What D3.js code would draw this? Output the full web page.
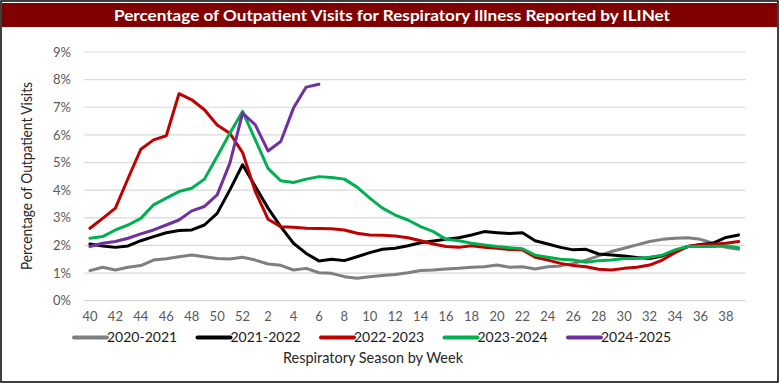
<!DOCTYPE html>
<html lang="en">
<head>
  <meta charset="utf-8">
  <title>ILINet Outpatient Visits</title>
  <script src="https://d3js.org/d3.v7.min.js"></script>
  <style>
    body { margin: 0; background: #fff; }
    text { font-family: Lato, 'Open Sans', sans-serif; }
  </style>
</head>
<body>
<svg width="780" height="384"></svg>
<script>
// season weeks (category axis)
var weeks = [40,41,42,43,44,45,46,47,48,49,50,51,52,
  1,2,3,4,5,6,7,8,9,10,11,12,13,14,15,16,17,18,19,20,21,22,23,24,25,26,27,28,29,30,31,32,33,34,35,36,37,38,39];

var seasons = ['2020-2021', '2021-2022', '2022-2023', '2023-2024', '2024-2025'];
var colors = ['#7f7f7f', '#000000', '#c00000', '#00b050', '#7030a0'];

// percent of visits
var s2020 = [1.09,1.21,1.11,1.21,1.27,1.47,1.52,1.59,1.65,1.59,1.53,1.51,1.57,1.47,1.33,1.28,
  1.11,1.17,1.01,0.99,0.87,0.81,0.87,0.91,0.95,1.01,1.09,1.11,1.15,1.17,1.21,1.23,1.29,1.21,
  1.23,1.15,1.23,1.26,1.35,1.47,1.62,1.78,1.90,2.02,2.14,2.22,2.26,2.28,2.22,2.08,1.93,1.86];
var s2021 = [2.05,1.98,1.93,1.98,2.17,2.32,2.46,2.54,2.56,2.74,3.16,4.01,4.92,4.13,3.35,2.68,
  2.08,1.71,1.44,1.50,1.45,1.59,1.74,1.86,1.90,1.99,2.10,2.16,2.22,2.28,2.38,2.50,2.46,2.43,
  2.46,2.17,2.05,1.93,1.84,1.86,1.69,1.65,1.62,1.56,1.53,1.62,1.81,1.96,2.03,2.08,2.29,2.38];
var s2022 = [2.62,2.98,3.35,4.43,5.48,5.82,5.97,7.49,7.27,6.91,6.36,6.06,5.36,3.95,2.95,2.68,
  2.66,2.62,2.61,2.60,2.56,2.44,2.38,2.37,2.34,2.28,2.17,2.05,1.96,1.93,1.99,1.93,1.90,1.85,
  1.84,1.57,1.47,1.35,1.27,1.23,1.14,1.11,1.17,1.21,1.29,1.47,1.74,1.96,2.02,2.04,2.08,2.14];
var s2023 = [2.26,2.32,2.56,2.74,2.98,3.47,3.71,3.95,4.07,4.40,5.22,6.06,6.85,5.82,4.79,4.34,
  4.28,4.40,4.49,4.46,4.40,4.11,3.71,3.35,3.10,2.92,2.68,2.50,2.22,2.17,2.08,2.02,1.96,1.92,
  1.88,1.65,1.57,1.50,1.47,1.39,1.45,1.47,1.53,1.53,1.57,1.65,1.84,1.96,1.96,1.96,1.98,1.92];
var s2024 = [1.96,2.08,2.14,2.26,2.42,2.56,2.74,2.92,3.25,3.41,3.83,4.98,6.79,6.36,5.42,5.76,6.97,7.73,7.83];

var yTicks = [0,1,2,3,4,5,6,7,8,9];

var series = [s2020, s2021, s2022, s2023, s2024];

var svg = d3.select('svg');

// frame + title bar
svg.append('rect').attr('x', 1).attr('y', 1).attr('width', 777).attr('height', 381)
  .attr('fill', '#fff').attr('stroke', '#000').attr('stroke-width', 1.5);
svg.append('rect').attr('x', 2).attr('y', 3).attr('width', 775).attr('height', 24)
  .attr('fill', '#800000');
svg.append('text')
  .attr('x', 392).attr('y', 21)
  .attr('text-anchor', 'middle')
  .attr('fill', '#fff')
  .style('font-size', '16px').style('font-weight', 'bold')
  .attr('textLength', 556).attr('lengthAdjust', 'spacingAndGlyphs')
  .text('Percentage of Outpatient Visits for Respiratory Illness Reported by ILINet');

var x = d3.scaleBand().domain(d3.range(weeks.length)).range([83.6, 745]);
var y = d3.scaleLinear().domain([0, 9]).range([300.7, 52]);

// gridlines
svg.append('g')
  .selectAll('line')
  .data(yTicks)
  .enter()
  .append('line')
  .attr('x1', 84).attr('x2', 745.5)
  .attr('y1', function(d) { return y(d); })
  .attr('y2', function(d) { return y(d); })
  .attr('stroke', '#d9d9d9').attr('stroke-width', 1.2);

// y axis labels
var yAxis = d3.axisLeft(y).tickValues(yTicks).tickSize(0).tickPadding(0)
  .tickFormat(function(d) { return d + '%'; });
var yg = svg.append('g').attr('transform', 'translate(71,0)').call(yAxis);
yg.select('.domain').remove();
yg.selectAll('text').attr('fill', '#595959').style('font-size', '13px')
  .style('font-family', 'Lato, sans-serif');

// x axis labels (every other week)
var xAxis = d3.axisBottom(x).tickSize(0).tickPadding(0)
  .tickValues(d3.range(0, weeks.length - 1, 2))
  .tickFormat(function(i) { return weeks[i]; });
var xg = svg.append('g').attr('transform', 'translate(0,312)').call(xAxis);
xg.select('.domain').remove();
xg.selectAll('text').attr('fill', '#595959').style('font-size', '13px')
  .style('font-family', 'Lato, sans-serif');

// lines
var line = d3.line()
  .x(function(d, i) { return x(i) + x.bandwidth() / 2; })
  .y(function(d) { return y(d); });

svg.append('g')
  .selectAll('path')
  .data(series)
  .enter()
  .append('path')
  .attr('d', line)
  .attr('fill', 'none')
  .attr('stroke', function(d, i) { return colors[i]; })
  .attr('stroke-width', 3)
  .attr('stroke-linejoin', 'round')
  .attr('stroke-linecap', 'round');

// legend
var leg = svg.append('g')
  .selectAll('g')
  .data(seasons)
  .enter()
  .append('g')
  .attr('transform', function(d, i) { return 'translate(' + (74 + i * 123.5) + ',337.5)'; });
leg.append('line')
  .attr('x1', 0).attr('x2', 33)
  .attr('stroke', function(d, i) { return colors[i]; })
  .attr('stroke-width', 4).attr('stroke-linecap', 'round');
leg.append('text')
  .attr('x', 33).attr('dy', '0.35em')
  .style('font-size', '14px').attr('fill', '#1a1a1a')
  .text(function(d) { return d; });

// axis titles
svg.append('text')
  .attr('x', 373).attr('y', 363)
  .attr('text-anchor', 'middle')
  .style('font-size', '15px').attr('fill', '#262626')
  .attr('textLength', 180).attr('lengthAdjust', 'spacingAndGlyphs')
  .text('Respiratory Season by Week');

svg.append('text')
  .attr('transform', 'translate(32,176) rotate(-90)')
  .attr('text-anchor', 'middle')
  .style('font-size', '15px').attr('fill', '#262626')
  .attr('textLength', 188).attr('lengthAdjust', 'spacingAndGlyphs')
  .text('Percentage of Outpatient Visits');
</script>
</body>
</html>
